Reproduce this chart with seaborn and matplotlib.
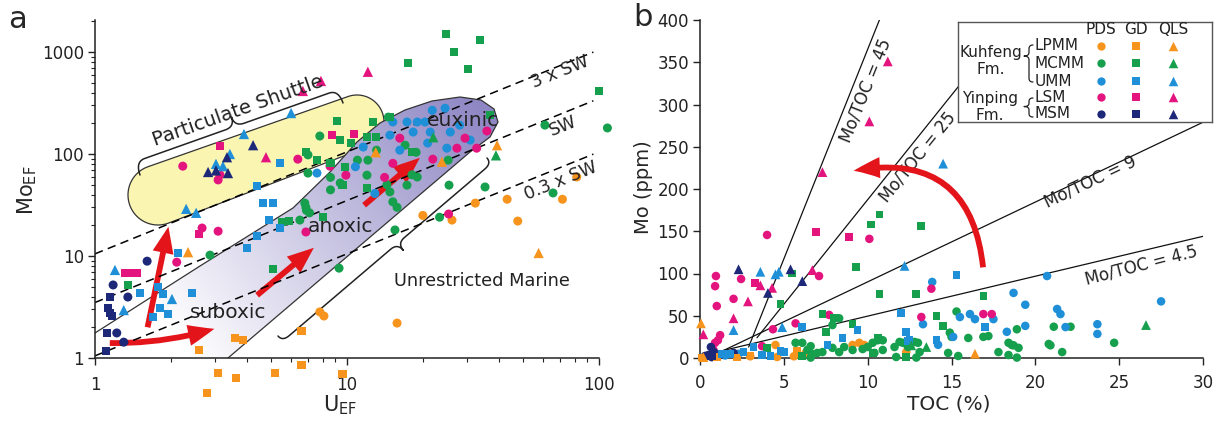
import numpy as np
import pandas as pd
import matplotlib
matplotlib.use("Agg")
import matplotlib.pyplot as plt
import matplotlib.ticker as mticker
from matplotlib.patches import Polygon, FancyArrowPatch
import seaborn as sns

sns.set_theme(style="ticks")
plt.rcParams['font.family'] = ['DejaVu Sans']

# ---------------- categories / styles ----------------
members = ["LPMM", "MCMM", "UMM", "LSM", "MSM"]
sites = ["PDS", "GD", "QLS"]
member_colors = ["#f7941d", "#16a04e", "#1f90d8", "#e4147f", "#1d2878"]
site_markers = ["o", "s", "^"]

# ---------------- panel a data: U_EF, Mo_EF ----------------
a_LPMM_PDS_U = [32.3, 43.2, 71.6, 81.6, 20.0, 26.1, 47.6, 7.8, 8.1, 15.8]
a_LPMM_PDS_Mo = [33, 36, 36, 59.5, 25, 22.5, 22, 2.83, 2.58, 2.2]
a_LPMM_GD_U = [2.59, 3.59, 3.87, 6.6, 3.08, 3.63, 2.78, 5.2, 6.6, 9.6]
a_LPMM_GD_Mo = [1.2, 1.57, 1.5, 1.84, 0.71, 0.64, 0.45, 0.71, 0.85, 0.70]
a_LPMM_QLS_U = [39.4, 57.6, 2.34, 13.0, 23.8]
a_LPMM_QLS_Mo = [122, 10.7, 10.9, 104, 84]

a_MCMM_PDS_U = [7.8, 7.0, 7.0, 8.6, 12.0, 14.4, 14.8, 15.8, 6.8, 6.9, 8.6, 9.4, 12.1, 13.1,
                18.1, 15.2, 11.0, 25.4, 35.3, 23.3, 65.7, 61, 108, 25.2, 19.0, 15.5, 9.3,
                17.3, 2.86, 6.87, 7.1, 6.5, 14.6, 17.0, 18.8]
a_MCMM_PDS_Mo = [150, 98, 65, 59, 62, 50, 42.5, 30, 33, 28, 44.5, 52, 87, 109,
                 62.5, 34, 87, 49.5, 47.5, 24, 41.5, 192, 180, 87, 59.5, 18, 7.6,
                 49.5, 10.2, 30, 26.5, 22.5, 230, 122, 104]
a_MCMM_GD_U = [24.7, 33.7, 26.6, 17.5, 30.3, 100, 9.1, 12.7, 14.8, 36.8, 6.9, 7.6, 9.4,
               10.4, 12.0, 13.0, 8.6, 9.8, 9.6, 12.0, 8.0, 18.1, 5.1, 5.5, 5.9, 1.35]
a_MCMM_GD_Mo = [1500, 1310, 1000, 780, 680, 415, 210, 206, 230, 240, 104, 87, 137,
                128, 147, 147, 81, 75, 49.5, 46.5, 24, 104, 7.5, 21.5, 22, 5.2]
a_MCMM_QLS_U = [39, 22]
a_MCMM_QLS_Mo = [97, 146]

a_UMM_PDS_U = [21.8, 24.5, 17.3, 19.0, 20.4, 18.3, 21.4, 25.7, 20.9, 24.9, 30.8, 16.2,
               14.8, 11.6, 10.8, 7.6, 12.9, 15.2, 28]
a_UMM_PDS_Mo = [268, 281, 206, 206, 206, 164, 164, 164, 128, 114, 137, 109,
                153, 117, 75, 65, 41, 206, 192]
a_UMM_GD_U = [5.42, 4.39, 4.64, 5.09, 4.90, 5.42, 4.39, 4.0, 2.13, 1.51, 1.78, 1.86,
              1.81, 1.95, 1.70, 2.43]
a_UMM_GD_Mo = [81, 48.5, 33, 33, 22.5, 18.8, 15.7, 12.0, 10.7, 4.34, 4.97, 4.24,
               3.09, 2.7, 2.52, 4.34]
a_UMM_QLS_U = [6.0, 3.9, 3.02, 3.43, 3.22, 2.30, 2.52, 1.20, 1.30, 2.02]
a_UMM_QLS_Mo = [252, 157, 80, 100, 76, 29, 26.5, 7.3, 2.95, 3.79]

a_LSM_PDS_U = [2.23, 3.08, 3.13, 2.66, 3.08, 2.11, 6.87, 6.38, 8.56, 9.9, 14.1, 15.2,
               16.2, 21.9, 27.3, 29.4, 32.7, 35.9, 25.3]
a_LSM_PDS_Mo = [76, 55.7, 62.6, 18.8, 17.5, 8.7, 17.2, 89, 76, 62, 59, 81,
                143, 89, 114, 143, 114, 168, 25.8]
a_LSM_GD_U = [1.32, 1.39, 1.47, 2.58, 3.13, 8.73, 10.7]
a_LSM_GD_Mo = [6.8, 6.8, 6.8, 16.4, 119, 153, 157]
a_LSM_QLS_U = [6.68, 7.88, 4.77, 12.1]
a_LSM_QLS_Mo = [415, 520, 93, 640]

a_MSM_PDS_U = [1.18, 1.35, 1.61, 1.22, 1.30]
a_MSM_PDS_Mo = [5.2, 3.96, 8.9, 1.76, 1.43]
a_MSM_GD_U = [1.15, 1.13, 1.15, 1.17, 1.12, 1.11]
a_MSM_GD_Mo = [3.96, 3.09, 2.76, 2.58, 1.76, 1.17]
a_MSM_QLS_U = [2.81, 3.34, 4.24, 3.37, 3.02]
a_MSM_QLS_Mo = [66.6, 93, 122, 65, 69]

# ---------------- panel b data: TOC (%), Mo (ppm) ----------------
b_LPMM_PDS_TOC = [4.5, 4.6, 9.1, 9.8, 6.3, 12.3, 9.5, 0.3, 3.0, 5.6]
b_LPMM_PDS_Mo = [15.4, 1.2, 15.4, 15.4, 6, 7, 18, 1, 2, 2]
b_LPMM_GD_TOC = [0.1, 3.0, 5.8, 1.0, 2.2]
b_LPMM_GD_Mo = [0.5, 3, 8, 1, 0.5]
b_LPMM_QLS_TOC = [0.06, 16.4, 0.2]
b_LPMM_QLS_Mo = [41, 5, 1]

b_MCMM_PDS_TOC = [5.7, 6.1, 6.6, 6.4, 6.7, 6.6, 7.0, 7.3, 7.9, 8.3, 8.6, 9.1, 9.7, 10.0,
                  10.3, 10.6, 10.9, 10.9, 10.4, 11.6, 11.7, 12.1, 12.4, 12.8, 12.9, 7.9,
                  8.3, 11.9, 13.0, 13.1, 14.8, 15.0, 15.3, 15.4, 16.0, 16.9, 17.2, 17.8,
                  18.4, 18.6, 18.9, 18.9, 19.0, 20.8, 21.1, 22.1, 21.6, 24.7, 18.4, 14.9,
                  20.9, 18.7]
b_MCMM_PDS_Mo = [18, 18, 14, 9.5, 4.7, 0.5, 6, 7, 12, 7, 13, 9.5, 10.6, 13,
                 18, 21, 21, 9.5, 6, 13, 1.2, 18, 13, 19, 0.5, 39,
                 47, 19, 18, 7, 6, 25, 55, 2.4, 23.7, 25, 26, 7,
                 3.5, 15.4, 34, 0.5, 12, 16.6, 37, 37, 7, 18, 18, 30,
                 15, 15]
b_MCMM_GD_TOC = [10.7, 10.2, 13.2, 9.3, 5.5, 4.8, 10.7, 12.9, 16.9, 14.1, 14.5, 9.1,
                 7.3, 8.0, 7.5, 10.6, 10.3, 12.3, 4.0, 6.1]
b_MCMM_GD_Mo = [170, 158, 156, 108, 100, 64, 76, 76, 73, 50, 38, 40,
                52, 47, 31, 24, 6, 1.2, 12, 2]
b_MCMM_QLS_TOC = [26.6, 13.5, 12.6]
b_MCMM_QLS_Mo = [39, 13, 15]

b_UMM_PDS_TOC = [13.85, 20.7, 27.5, 18.7, 19.4, 21.3, 21.5, 21.8, 19.4, 23.7, 23.7, 18.3,
                 15.5, 16.1, 16.4, 17.5, 13.3, 15.1, 14.2, 1.5, 2.3]
b_UMM_PDS_Mo = [90, 97, 67, 77, 63, 58, 52, 36.6, 38, 40, 28.5, 31,
                48.5, 52, 46, 46, 40, 25, 15.6, 3, 5]
b_UMM_GD_TOC = [6.1, 8.5, 9.4, 7.6, 3.2, 2.6, 3.7, 4.2, 5.0, 1.3, 1.8, 15.3, 12.0, 17.0,
                12.3, 12.4, 14.1, 12.5, 4.8]
b_UMM_GD_Mo = [36.6, 23.7, 33, 15.4, 13, 7, 3.5, 2.4, 7, 4.7, 4.7, 98, 53, 37,
               31, 20, 21, 21, 8]
b_UMM_QLS_TOC = [14.5, 12.2, 3.6, 4.5, 4.7, 2.0, 4.9]
b_UMM_QLS_Mo = [230, 109, 102, 99, 102, 33, 36.5]

b_LSM_PDS_TOC = [0.95, 0.9, 1.0, 2.0, 2.45, 4.0, 7.1, 10.1, 7.7, 5.7, 4.35, 3.7, 1.2,
                 1.07, 0.9, 0.8, 13.8, 13.2, 16.9, 17.4]
b_LSM_PDS_Mo = [97, 85, 61.5, 70, 93.5, 145.6, 97, 141, 51, 41, 34, 14, 27,
                21, 18, 9.5, 82, 48.5, 52, 52]
b_LSM_GD_TOC = [6.9, 8.9, 3.3]
b_LSM_GD_Mo = [149, 143, 89]
b_LSM_QLS_TOC = [11.2, 10.1, 7.3, 6.7, 2.86, 2.0, 0.2, 4.3, 3.6]
b_LSM_QLS_Mo = [351, 280, 220, 104, 67, 47, 28, 83, 86]

b_MSM_PDS_TOC = [0.5, 0.65, 0.83, 0.3, 1.2, 2.0, 0.7]
b_MSM_PDS_Mo = [3.5, 13, 7, 2.4, 3.5, 6, 1]
b_MSM_GD_TOC = [0.4, 0.7]
b_MSM_GD_Mo = [2.5, 2.5]
b_MSM_QLS_TOC = [2.3, 5.4, 6.1, 4.05]
b_MSM_QLS_Mo = [105, 105, 91, 77]

# reference lines
sw_ratio = 3.5
sw_factors = [3.0, 1.0, 0.3]
sw_labels = ["3 x SW", "SW", "0.3 x SW"]
sw_U_range = [1.0, 95.0]

mt_ratios = ["45", "25", "9", "4.5"]
mt_TOC0 = [2.9, 3.4, 1.2, 1.2]
mt_Mo0 = [13, 24, 7, 8]
mt_TOC1 = [10.7, 15.4, 30.0, 30.0]
mt_Mo1 = [400, 321, 279, 144]


def build(prefix, xname):
    rows = []
    g = globals()
    for m in members:
        for s in sites:
            xs = g[f"{prefix}_{m}_{s}_{xname}"]
            ys = g[f"{prefix}_{m}_{s}_Mo"]
            for x, y in zip(xs, ys):
                rows.append({"x": x, "y": y, "member": m, "site": s})
    return pd.DataFrame(rows)


df_a = build("a", "U")
df_b = build("b", "TOC")
palette = dict(zip(members, member_colors))
mk = dict(zip(sites, site_markers))
sizes = {"PDS": 42, "GD": 34, "QLS": 55}

# ---------------- figure layout ----------------
W, H = 1226, 425
fig = plt.figure(figsize=(W / 100, H / 100), dpi=100)


def rect(x0, x1, y0, y1):
    return [x0 / W, 1 - y1 / H, (x1 - x0) / W, (y1 - y0) / H]


ytop_a = 10 ** (338 / 102)
rect_a = rect(95, 599, 20, 358)
rect_b = rect(700, 1203, 20, 358)

axbg = fig.add_axes(rect_a, zorder=0)
axbg.set_xlim(0, 2)
axbg.set_ylim(0, np.log10(ytop_a))
axbg.axis("off")

ax_a = fig.add_axes(rect_a, zorder=1)
ax_a.patch.set_alpha(0)
ax_b = fig.add_axes(rect_b, zorder=1)


def r2l(pts):
    pts = np.asarray(pts, float)
    return np.column_stack([(pts[:, 0] - 95) / 252.0, (358 - pts[:, 1]) / 102.0])


def stadium_px(c0, c1, r0, r1, n=60):
    c0 = np.array(c0, float); c1 = np.array(c1, float)
    v = c1 - c0
    ang = np.arctan2(v[1], v[0])
    th1 = np.linspace(ang - np.pi / 2, ang + np.pi / 2, n)
    th0 = np.linspace(ang + np.pi / 2, ang + 3 * np.pi / 2, n)
    a1 = c1 + r1 * np.column_stack([np.cos(th1), np.sin(th1)])
    a0 = c0 + r0 * np.column_stack([np.cos(th0), np.sin(th0)])
    return np.vstack([a1, a0])


def brace_px(p0, p1, sign, d, dt, frac=0.5, a=9, npts=20):
    p0 = np.array(p0, float); p1 = np.array(p1, float)
    v = p1 - p0
    L = np.hypot(*v)
    u = v / L
    n = sign * np.array([-u[1], u[0]])
    m = frac * L

    def qb(P0, C, P2):
        t = np.linspace(0, 1, npts)[:, None]
        return (1 - t) ** 2 * np.array(P0) + 2 * (1 - t) * t * np.array(C) + t ** 2 * np.array(P2)

    loc = np.vstack([
        qb([0, 0], [0, d], [a, d]),
        np.array([[a, d], [m - a, d]]),
        qb([m - a, d], [m, d], [m, d + dt]),
        qb([m, d + dt], [m, d], [m + a, d]),
        np.array([[m + a, d], [L - a, d]]),
        qb([L - a, d], [L, d], [L, 0]),
    ])
    return p0 + loc[:, 0:1] * u + loc[:, 1:2] * n


# ---------------- panel a: background shapes ----------------
yel = r2l(stadium_px((158, 195), (357, 122), 30, 27))
axbg.add_patch(Polygon(yel, closed=True, facecolor="#fbf5b2", edgecolor="#333333", lw=0.9, zorder=1))

purple_px = [(95, 358), (95, 333), (200, 266), (293, 208), (330, 172), (357, 142), (380, 123),
             (405, 110), (432, 101), (460, 97), (481, 100), (494, 109), (498, 122), (490, 137),
             (470, 152), (228, 358)]
ppoly = r2l(purple_px)
clip = Polygon(ppoly, closed=True, facecolor="none", edgecolor="none", transform=axbg.transData)
axbg.add_patch(clip)
nx, ny = 500, 340
LX, LY = np.meshgrid(np.linspace(0, 2, nx), np.linspace(0, np.log10(ytop_a), ny))
PX = 95 + 252 * LX
PY = 358 - 102 * LY
V = np.array([300.0, -240.0])
t = ((PX - 180) * V[0] + (PY - 345) * V[1]) / (V @ V)
t = np.clip(t, 0, 1)
purple = np.array([0.56, 0.53, 0.77])
img = 1 - t[..., None] * (1 - purple)
im = axbg.imshow(img, extent=[0, 2, 0, np.log10(ytop_a)], origin="lower", aspect="auto",
                 zorder=2, interpolation="bilinear")
im.set_clip_path(clip)
axbg.plot(ppoly[1:, 0], ppoly[1:, 1], color="#333333", lw=0.9, zorder=3)
axbg.set_xlim(0, 2)
axbg.set_ylim(0, np.log10(ytop_a))

b1 = r2l(brace_px((140, 175), (343, 103), -1, 14, 10, frac=0.49, a=10))
axbg.plot(b1[:, 0], b1[:, 1], color="#222222", lw=1.1, zorder=3)
b2 = r2l(brace_px((278, 336), (487, 158), 1, 7, 9, frac=0.55, a=9))
axbg.plot(b2[:, 0], b2[:, 1], color="#222222", lw=1.1, zorder=3)

red = "#e3151b"
arrow_style = "simple,head_length=1.0,head_width=0.8,tail_width=0.22"
for (s0, s1, rad) in [((107, 343), (217, 328), 0.08), ((147, 330), (169, 224), 0.0),
                      ((255, 297), (316, 246), 0.0), ((362, 207), (422, 156), 0.0)]:
    p = r2l([s0, s1])
    axbg.add_patch(FancyArrowPatch(tuple(p[0]), tuple(p[1]), arrowstyle=arrow_style,
                                   mutation_scale=19, color=red, lw=0,
                                   connectionstyle=f"arc3,rad={rad}", zorder=4))

# ---------------- panel a: data ----------------
ax_a.set_xscale("log")
ax_a.set_yscale("log")
Ux = np.array(sw_U_range)
for f in sw_factors:
    ax_a.plot(Ux, f * sw_ratio * Ux, color="black", lw=1.1, dashes=(5.5, 3.5), zorder=2)

for s in sites:
    sub = df_a[df_a.site == s]
    sns.scatterplot(data=sub, x="x", y="y", hue="member", hue_order=members, palette=palette,
                    marker=mk[s], s=sizes[s], linewidth=0, legend=False, ax=ax_a,
                    clip_on=False, zorder=3)

ax_a.set_xlim(1, 100)
ax_a.set_ylim(1, ytop_a)


def afrac(px, py):
    return (px - 95) / 504.0, (358 - py) / 338.0


txt_a = [("Particulate Shuttle", 238, 111, 19.5, 14), ("euxinic", 463, 120, 0, 14.5),
         ("anoxic", 340, 227, 0, 14.5), ("suboxic", 228, 313, 0, 14.5),
         ("Unrestricted Marine", 482, 281, 0, 12.8)]
for s, px, py, rot, fs in txt_a:
    fx, fy = afrac(px, py)
    ax_a.text(fx, fy, s, transform=ax_a.transAxes, ha="center", va="center", rotation=rot,
              fontsize=fs, color="#222222", zorder=5)
for s, (px, py) in zip(sw_labels, [(560, 72), (563, 126), (561, 181)]):
    fx, fy = afrac(px, py)
    ax_a.text(fx, fy, s, transform=ax_a.transAxes, ha="center", va="center", rotation=22,
              fontsize=12.5, color="#222222", zorder=5)

fmt = mticker.FuncFormatter(lambda v, _: f"{v:g}")
for axis in (ax_a.xaxis, ax_a.yaxis):
    axis.set_major_locator(mticker.LogLocator(base=10, numticks=10))
    axis.set_minor_locator(mticker.LogLocator(base=10, subs=np.arange(2, 10), numticks=50))
    axis.set_major_formatter(fmt)
    axis.set_minor_formatter(mticker.NullFormatter())
ax_a.set_xlabel("U$_{\\mathrm{EF}}$", fontsize=15)
ax_a.set_ylabel("Mo$_{\\mathrm{EF}}$", fontsize=15)
ax_a.xaxis.set_label_coords(afrac(340, 0)[0], (358 - 393) / 338.0)
ax_a.yaxis.set_label_coords((39 - 95) / 504.0, afrac(0, 190)[1])

# ---------------- panel b ----------------
for i, r in enumerate(mt_ratios):
    ax_b.plot([mt_TOC0[i], mt_TOC1[i]], [mt_Mo0[i], mt_Mo1[i]], color="#111111", lw=0.9, zorder=2)

for s in sites:
    sub = df_b[df_b.site == s]
    sns.scatterplot(data=sub, x="x", y="y", hue="member", hue_order=members, palette=palette,
                    marker=mk[s], s=sizes[s] * 0.9, linewidth=0, legend=False, ax=ax_b,
                    clip_on=False, zorder=3)

ax_b.set_xlim(0, 30)
ax_b.set_ylim(0, 400)
ax_b.xaxis.set_major_locator(mticker.MultipleLocator(5))
ax_b.yaxis.set_major_locator(mticker.MultipleLocator(50))


def bfrac(px, py):
    return (px - 700) / 503.0, (358 - py) / 338.0


for r, (px, py), rot in zip(mt_ratios, [(866, 90), (918, 157), (1090, 182), (1141, 265)],
                            [68, 51, 25.4, 14.5]):
    fx, fy = bfrac(px, py)
    ax_b.text(fx, fy, f"Mo/TOC = {r}", transform=ax_b.transAxes, ha="center", va="center",
              rotation=rot, fontsize=12, color="#222222", zorder=4)

ax_b.add_patch(FancyArrowPatch((16.9, 104), (9.0, 221), arrowstyle=arrow_style,
                               mutation_scale=19, color=red, lw=0,
                               connectionstyle="arc3,rad=0.55", zorder=4))
ax_b.set_xlabel("TOC (%)", fontsize=14.5)
ax_b.set_ylabel("Mo (ppm)", fontsize=14)
ax_b.xaxis.set_label_coords(bfrac(949, 0)[0], (358 - 394) / 338.0)
ax_b.yaxis.set_label_coords((653 - 700) / 503.0, bfrac(0, 187)[1])

# ---------------- common axis styling ----------------
for ax, xpad in ((ax_a, 8), (ax_b, 6.5)):
    sns.despine(ax=ax)
    for sp in ("left", "bottom"):
        ax.spines[sp].set_linewidth(1.1)
        ax.spines[sp].set_color("#222222")
    ax.tick_params(which="major", length=5, width=1.0, direction="out", labelsize=12,
                   colors="#222222")
    ax.tick_params(which="minor", length=3, width=0.8, direction="out", colors="#222222")
    ax.tick_params(axis="x", which="major", pad=xpad)
    ax.tick_params(axis="y", which="major", pad=3)
    ax.grid(False)

fig.text(18 / W, 1 - 19 / H, "a", fontsize=22, ha="center", va="center")
fig.text(643 / W, 1 - 18 / H, "b", fontsize=22, ha="center", va="center")

# ---------------- legend box ----------------
lax = fig.add_axes(rect(958, 1212, 22, 122), zorder=5)
lax.set_xlim(958, 1212)
lax.set_ylim(122, 22)
lax.set_xticks([]); lax.set_yticks([])
for sp in lax.spines.values():
    sp.set_color("#555555"); sp.set_linewidth(1.0)
lax.set_facecolor("white")
col_x = [1101, 1136, 1173]
row_y = [46, 63, 81, 97, 114]
for s, cx in zip(sites, col_x):
    lax.text(cx, 30, s, ha="center", va="center", fontsize=11, color="#222222")
for i, m in enumerate(members):
    lax.text(1035, row_y[i], m, ha="left", va="center", fontsize=11, color="#222222")
    for j, s in enumerate(sites):
        lax.scatter([col_x[j]], [row_y[i]], marker=mk[s], s=sizes[s] * 0.85,
                    color=member_colors[i], linewidths=0)
lax.text(991, 52, "Kuhfeng", ha="center", va="center", fontsize=11, color="#222222")
lax.text(991, 69, "Fm.", ha="center", va="center", fontsize=11, color="#222222")
lax.text(990, 98, "Yinping", ha="center", va="center", fontsize=11, color="#222222")
lax.text(990, 115, "Fm.", ha="center", va="center", fontsize=11, color="#222222")
lb1 = brace_px((1033, 45), (1033, 82), 1, 4, 5, frac=0.3, a=4)
lax.plot(lb1[:, 0], lb1[:, 1], color="#222222", lw=0.9)
lb2 = brace_px((1033, 98), (1033, 117), 1, 4, 5, frac=0.45, a=3.5)
lax.plot(lb2[:, 0], lb2[:, 1], color="#222222", lw=0.9)
lax.set_xlim(958, 1212)
lax.set_ylim(122, 22)

fig.savefig("out.png", dpi=100)
